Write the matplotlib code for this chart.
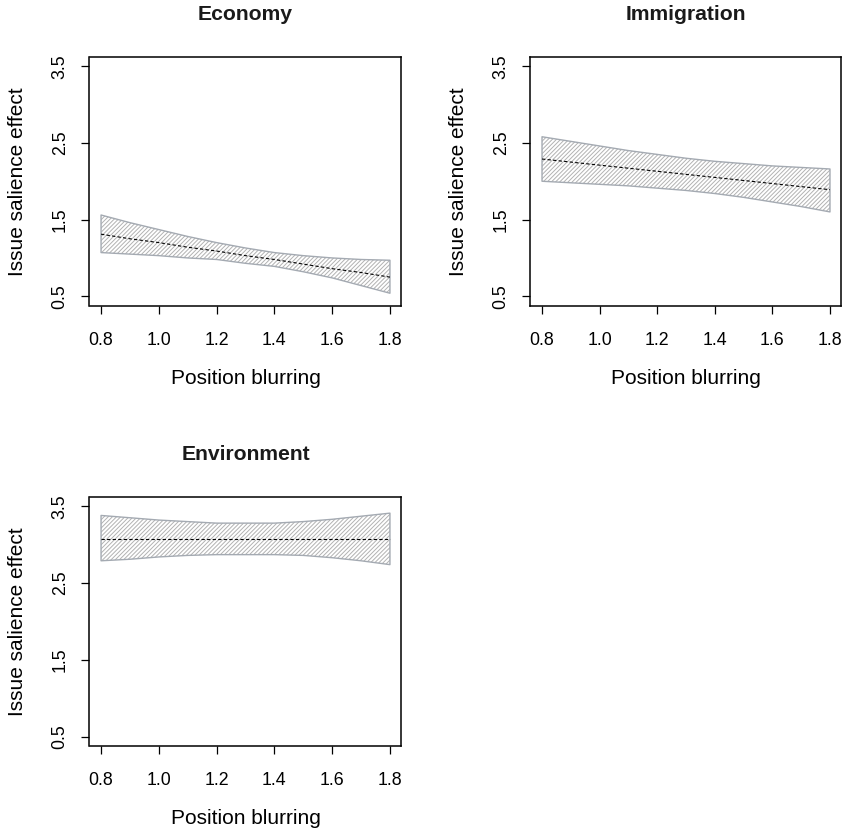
import matplotlib
matplotlib.use("Agg")
import matplotlib.pyplot as plt

plt.rcParams['font.family'] = ['Liberation Sans', 'DejaVu Sans']
plt.rcParams['hatch.linewidth'] = 0.7

# Position blurring grid
blur = [0.8, 0.9, 1.0, 1.1, 1.2, 1.3, 1.4, 1.5, 1.6, 1.7, 1.8]

# Economy
econ_mean = [1.31, 1.25, 1.20, 1.14, 1.09, 1.03, 0.98, 0.92, 0.86, 0.81, 0.75]
econ_upper = [1.56, 1.46, 1.37, 1.28, 1.20, 1.13, 1.07, 1.03, 1.00, 0.98, 0.97]
econ_lower = [1.07, 1.05, 1.03, 1.00, 0.98, 0.93, 0.89, 0.82, 0.74, 0.64, 0.54]

# Immigration
immi_mean = [2.29, 2.25, 2.21, 2.17, 2.13, 2.09, 2.05, 2.01, 1.97, 1.93, 1.89]
immi_upper = [2.58, 2.52, 2.46, 2.40, 2.35, 2.30, 2.26, 2.23, 2.20, 2.18, 2.16]
immi_lower = [2.00, 1.98, 1.96, 1.94, 1.91, 1.88, 1.84, 1.79, 1.73, 1.67, 1.60]

# Environment
envi_mean = [3.08, 3.08, 3.08, 3.08, 3.08, 3.08, 3.08, 3.08, 3.08, 3.08, 3.08]
envi_upper = [3.38, 3.35, 3.32, 3.30, 3.28, 3.28, 3.28, 3.30, 3.33, 3.37, 3.41]
envi_lower = [2.79, 2.81, 2.84, 2.86, 2.87, 2.87, 2.87, 2.86, 2.83, 2.79, 2.74]

titles = ["Economy", "Immigration", "Environment"]
x_ticks = [0.8, 1.0, 1.2, 1.4, 1.6, 1.8]
x_ticklabels = ["0.8", "1.0", "1.2", "1.4", "1.6", "1.8"]
y_ticks = [0.5, 1.5, 2.5, 3.5]
y_ticklabels = ["0.5", "1.5", "2.5", "3.5"]

panels = [
    (econ_mean, econ_upper, econ_lower),
    (immi_mean, immi_upper, immi_lower),
    (envi_mean, envi_upper, envi_lower),
]

W, H = 845, 832
fig = plt.figure(figsize=(W / 100, H / 100), dpi=100)

# axes boxes in pixel coordinates: left, top, right, bottom
boxes = [
    (89.5, 57.0, 401.5, 305.5),
    (530.5, 57.0, 841.5, 305.5),
    (89.5, 497.0, 401.5, 746.0),
]

band_grey = "#a4aab2"
hatch_grey = "#b2b2b2"

for (mean, upper, lower), title, (l, t, r, b) in zip(panels, titles, boxes):
    ax = fig.add_axes([l / W, 1 - b / H, (r - l) / W, (b - t) / H])
    ax.fill_between(blur, lower, upper, facecolor="white",
                    edgecolor=hatch_grey, hatch="////////", linewidth=0.0)
    ax.fill_between(blur, lower, upper, facecolor="none",
                    edgecolor=band_grey, linewidth=1.0)
    ax.plot(blur, mean, color="black", lw=0.8, linestyle=(0, (3, 2)))

    ax.set_xlim(0.76, 1.84)
    ax.set_ylim(0.38, 3.62)
    ax.set_xticks(x_ticks)
    ax.set_xticklabels(x_ticklabels)
    ax.set_yticks(y_ticks)
    ax.set_yticklabels(y_ticklabels, rotation=90, va="center")
    ax.tick_params(direction="out", length=6, width=0.9, labelsize=12.8,
                   colors="black")
    ax.tick_params(axis="x", pad=13)
    ax.tick_params(axis="y", pad=9)
    for sp in ax.spines.values():
        sp.set_linewidth(1.1)
        sp.set_color("black")

    ax.set_title(title, fontsize=15.2, fontweight="bold", pad=26.5,
                 color="#1a1a1a")
    ax.set_xlabel("Position blurring", fontsize=15, va="center")
    ax.xaxis.set_label_coords(0.5, -73.0 / (b - t))
    ax.set_ylabel("Issue salience effect", fontsize=15, va="center")
    ax.yaxis.set_label_coords(-71.5 / (r - l), 0.5)

fig.savefig("out.png", dpi=100)
